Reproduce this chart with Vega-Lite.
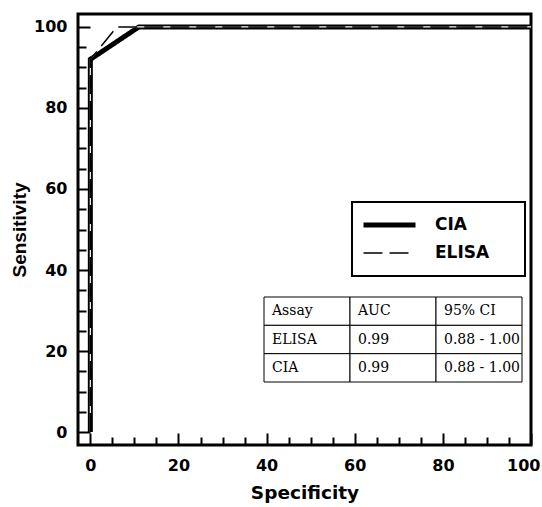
{
  "$schema": "https://vega.github.io/schema/vega-lite/v6.json",
  "width": 453,
  "height": 431,
  "autosize": {"type": "none"},
  "padding": {"left": 78, "top": 14, "right": 11, "bottom": 62},
  "background": "white",
  "config": {
    "view": {"stroke": "black", "strokeWidth": 3},
    "font": "DejaVu Sans",
    "legend": {"strokeWidth": 2}
  },
  "datasets": {
    "roc": [
      {"assay": "CIA", "pt": 1, "spec": 0, "sens": 0},
      {"assay": "CIA", "pt": 2, "spec": 0, "sens": 92},
      {"assay": "CIA", "pt": 3, "spec": 11, "sens": 100},
      {"assay": "CIA", "pt": 4, "spec": 100, "sens": 100},
      {"assay": "ELISA", "pt": 1, "spec": 0, "sens": 0},
      {"assay": "ELISA", "pt": 2, "spec": 0, "sens": 92},
      {"assay": "ELISA", "pt": 3, "spec": 6, "sens": 100},
      {"assay": "ELISA", "pt": 4, "spec": 100, "sens": 100}
    ],
    "auc": [
      {"row": "Assay", "column": "Assay", "cell": "Assay"},
      {"row": "Assay", "column": "AUC", "cell": "AUC"},
      {"row": "Assay", "column": "95% CI", "cell": "95% CI"},
      {"row": "ELISA", "column": "Assay", "cell": "ELISA"},
      {"row": "ELISA", "column": "AUC", "cell": "0.99"},
      {"row": "ELISA", "column": "95% CI", "cell": "0.88 - 1.00"},
      {"row": "CIA", "column": "Assay", "cell": "CIA"},
      {"row": "CIA", "column": "AUC", "cell": "0.99"},
      {"row": "CIA", "column": "95% CI", "cell": "0.88 - 1.00"}
    ]
  },
  "layer": [
    {
      "data": {"name": "roc"},
      "encoding": {
        "x": {
          "field": "spec", "type": "quantitative",
          "scale": {"domain": [-2.8, 100], "nice": false, "zero": false},
          "axis": {
            "values": [0, 5, 10, 15, 20, 25, 30, 35, 40, 45, 50, 55, 60, 65, 70, 75, 80, 85, 90, 95, 100],
            "labelExpr": "datum.value % 20 === 0 ? datum.label : ''",
            "tickSize": {"condition": {"test": "datum.value % 20 === 0", "value": -12}, "value": -8},
            "tickColor": "black", "tickWidth": 2,
            "domain": false, "grid": false,
            "labelFont": "DejaVu Sans", "labelFontWeight": "bold", "labelFontSize": 16, "labelColor": "black",
            "labelPadding": 24, "labelFlush": 5, "labelFlushOffset": 9,
            "title": "Specificity", "titleFont": "DejaVu Sans", "titleFontWeight": "bold", "titleFontSize": 18.5,
            "titleColor": "black", "titlePadding": 10
          }
        },
        "y": {
          "field": "sens", "type": "quantitative",
          "scale": {"domain": [-3.2, 103.2], "nice": false, "zero": false},
          "axis": {
            "values": [0, 5, 10, 15, 20, 25, 30, 35, 40, 45, 50, 55, 60, 65, 70, 75, 80, 85, 90, 95, 100],
            "labelExpr": "datum.value % 20 === 0 ? datum.label : ''",
            "tickSize": {"condition": {"test": "datum.value % 20 === 0", "value": -12}, "value": -8},
            "tickColor": "black", "tickWidth": 2,
            "domain": false, "grid": false,
            "labelFont": "DejaVu Sans", "labelFontWeight": "bold", "labelFontSize": 16, "labelColor": "black",
            "labelPadding": 23, "labelFlush": false,
            "title": "Sensitivity", "titleFont": "Liberation Sans", "titleFontWeight": "bold", "titleFontSize": 19,
            "titleColor": "black", "titlePadding": 4
          }
        },
        "order": {"field": "pt", "type": "quantitative"}
      },
      "layer": [
        {
          "transform": [{"filter": "datum.assay === 'CIA'"}],
          "mark": {"type": "line"},
          "encoding": {
            "color": {"field": "assay", "type": "nominal", "scale": {"domain": ["CIA", "ELISA"], "range": ["black", "black"]},
              "legend": {"orient": "none", "legendX": 274, "legendY": 188, "title": null, "symbolType": "stroke", "symbolSize": 2704, "clipHeight": 28, "rowPadding": 0, "padding": 9, "labelOffset": 17, "labelFont": "DejaVu Sans", "labelFontWeight": "bold", "labelFontSize": 17, "labelColor": "black", "strokeColor": "black", "labelExpr": "datum.label + '\u2800\u2800'"}},
            "strokeDash": {"field": "assay", "type": "nominal", "scale": {"domain": ["CIA", "ELISA"], "range": [[1, 0], [19, 7]]},
              "legend": {"orient": "none", "legendX": 274, "legendY": 188, "title": null, "symbolType": "stroke", "symbolSize": 2704, "clipHeight": 28, "rowPadding": 0, "padding": 9, "labelOffset": 17, "labelFont": "DejaVu Sans", "labelFontWeight": "bold", "labelFontSize": 17, "labelColor": "black", "strokeColor": "black", "labelExpr": "datum.label + '\u2800\u2800'"}},
            "strokeWidth": {"field": "assay", "type": "nominal", "scale": {"domain": ["CIA", "ELISA"], "range": [5, 1.5]},
              "legend": {"orient": "none", "legendX": 274, "legendY": 188, "title": null, "symbolType": "stroke", "symbolSize": 2704, "clipHeight": 28, "rowPadding": 0, "padding": 9, "labelOffset": 17, "labelFont": "DejaVu Sans", "labelFontWeight": "bold", "labelFontSize": 17, "labelColor": "black", "strokeColor": "black", "labelExpr": "datum.label + '\u2800\u2800'"}}
          }
        },
        {
          "transform": [{"filter": "datum.assay === 'ELISA'"}],
          "mark": {"type": "line", "color": "white", "strokeWidth": 1.2}
        },
        {
          "transform": [{"filter": "datum.assay === 'ELISA'"}],
          "mark": {"type": "line"},
          "encoding": {
            "color": {"field": "assay", "type": "nominal"},
            "strokeDash": {"field": "assay", "type": "nominal"},
            "strokeWidth": {"field": "assay", "type": "nominal"}
          }
        }
      ]
    },
    {
      "data": {"name": "auc"},
      "encoding": {
        "x": {"field": "column", "type": "nominal", "scale": {"type": "band", "domain": ["Assay", "AUC", "95% CI"], "range": [186, 444], "paddingInner": 0, "paddingOuter": 0}, "axis": null},
        "y": {"field": "row", "type": "nominal", "scale": {"type": "band", "domain": ["Assay", "ELISA", "CIA"], "range": [283, 368], "paddingInner": 0, "paddingOuter": 0}, "axis": null}
      },
      "layer": [
        {"mark": {"type": "rect", "fill": "white", "stroke": "black", "strokeWidth": 1}},
        {
          "mark": {"type": "text", "align": "left", "baseline": "middle", "dx": 8, "font": "DejaVu Serif", "fontSize": 14, "color": "black"},
          "encoding": {
            "x": {"field": "column", "type": "nominal", "bandPosition": 0},
            "text": {"field": "cell", "type": "nominal"}
          }
        }
      ]
    }
  ],
  "resolve": {"scale": {"x": "independent", "y": "independent"}}
}
